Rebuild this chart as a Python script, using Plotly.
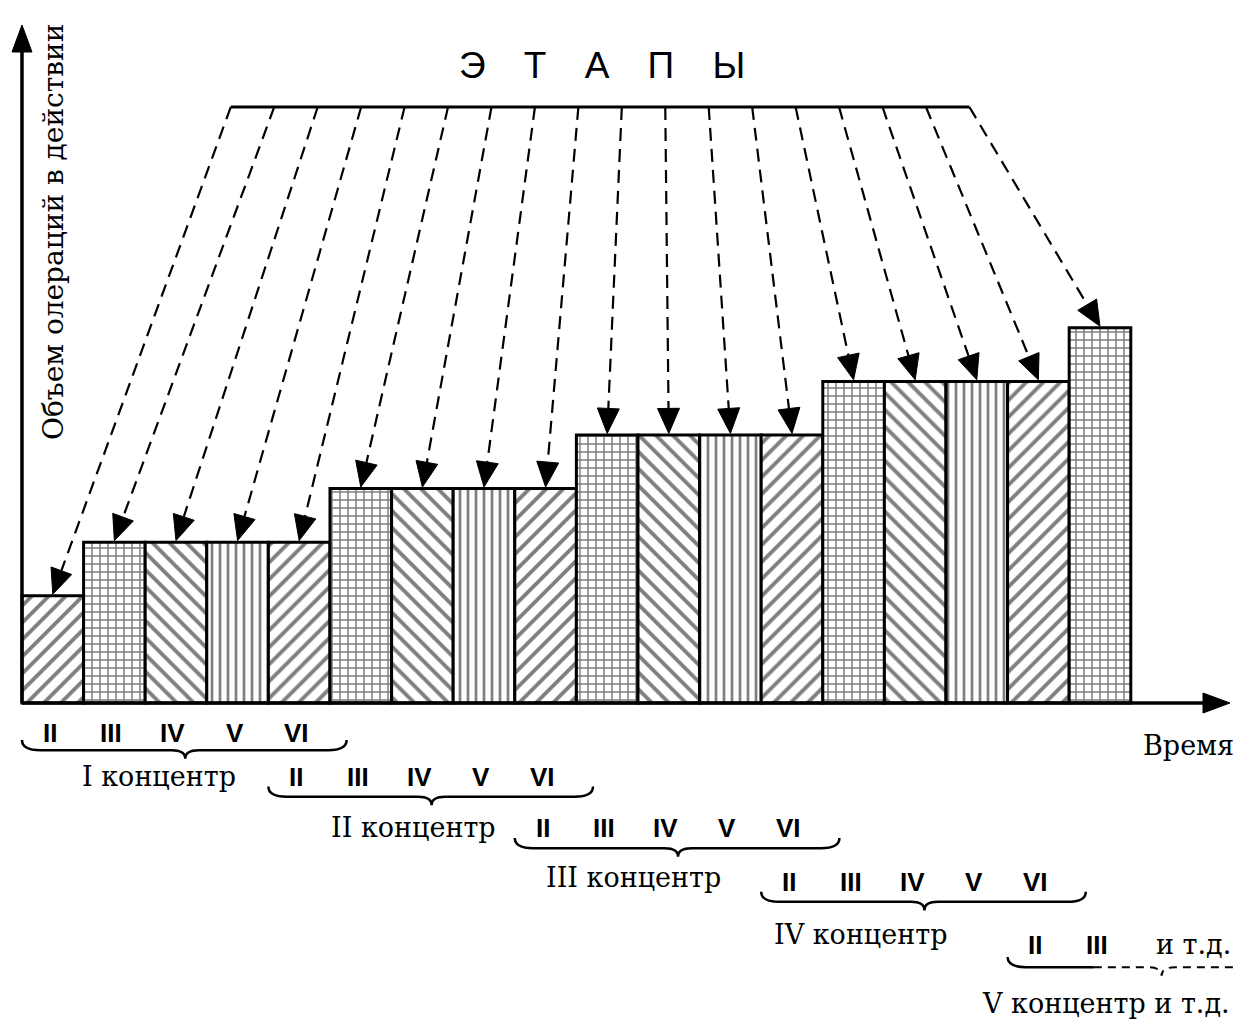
import math
import plotly.graph_objects as go

# ---------------- data ----------------
stage_volume = [2, 3, 3, 3, 3, 4, 4, 4, 4, 5, 5, 5, 5, 6, 6, 6, 6, 7]
stage_pattern = ["/", "+", "\\", "|", "/", "+", "\\", "|", "/",
                 "+", "\\", "|", "/", "+", "\\", "|", "/", "+"]
roman_numerals = ["II", "III", "IV", "V", "VI"]
last_numerals = ["II", "III"]
concentr_labels = ["I концентр", "II концентр", "III концентр", "IV концентр", "V концентр и т.д."]
title_text = "\u00a0\u00a0\u00a0\u2009".join("ЭТАПЫ")
y_title = "Объем олераций в действии"
x_title = "Время"

# ---------------- layout constants ----------------
W, H = 1236, 1021
X_RANGE = [-0.357, 19.708]
Y_RANGE = [-5.933, 13.116]
pattern_size = {"+": 8, "\\": 12, "|": 8, "/": 12}
pattern_solidity = {"+": 0.34, "\\": 0.32, "|": 0.34, "/": 0.32}

numeral_row_y = [-0.56, -1.38, -2.33, -3.34, -4.51]
brace_row_y = [-0.88, -1.75, -2.71, -3.71, -4.93]
label_row_y = [-1.38, -2.33, -3.25, -4.31, -5.60]
label_x = [2.22, 6.35, 9.92, 13.62, 19.65]
arrow_line_x = [3.39, 15.38]
arrow_line_y = 11.12

SX = W / (X_RANGE[1] - X_RANGE[0])
SY = H / (Y_RANGE[1] - Y_RANGE[0])

NUM_FONT = dict(family="Liberation Sans", size=26, color="black", weight="bold")
LBL_FONT = dict(family="DejaVu Serif", size=27, color="black")


def to_px(x, y):
    return (x - X_RANGE[0]) * SX, (Y_RANGE[1] - y) * SY


def from_px(px, py):
    return px / SX + X_RANGE[0], Y_RANGE[1] - py / SY


def arrow_head(tip, frm, length=24, half=10):
    tx, ty = to_px(*tip)
    fx, fy = to_px(*frm)
    dx, dy = tx - fx, ty - fy
    d = math.hypot(dx, dy)
    ux, uy = dx / d, dy / d
    bx, by = tx - ux * length, ty - uy * length
    nx, ny = -uy, ux
    p1 = from_px(bx + nx * half, by + ny * half)
    p2 = from_px(bx - nx * half, by - ny * half)
    base = from_px(bx, by)
    path = f"M{tip[0]},{tip[1]} L{p1[0]},{p1[1]} L{p2[0]},{p2[1]} Z"
    return path, base


shapes = []


def add_head(tip, frm, length=24, half=10):
    path, base = arrow_head(tip, frm, length, half)
    shapes.append(dict(type="path", path=path, xref="x", yref="y",
                       fillcolor="black", line=dict(color="black", width=1)))
    return base


# ---------------- bars ----------------
n = len(stage_volume)
xs = [i + 0.5 for i in range(n)]
fig = go.Figure(go.Bar(
    x=xs, y=stage_volume, width=[1] * n,
    marker=dict(
        color="white",
        line=dict(color="black", width=3),
        pattern=dict(shape=stage_pattern,
                     size=[pattern_size[s] for s in stage_pattern],
                     solidity=[pattern_solidity[s] for s in stage_pattern],
                     fgcolor="black"),
    ),
    hoverinfo="skip",
))

# ---------------- axes drawn as arrows ----------------
y_tip = (0, from_px(0, 25)[1])
base = add_head(y_tip, (0, 0), 27, 10)
shapes.append(dict(type="line", xref="x", yref="y", x0=0, y0=0, x1=0, y1=base[1],
                   line=dict(color="black", width=3.5)))
x_tip = (from_px(1230, 0)[0], 0)
base = add_head(x_tip, (0, 0), 27, 10)
shapes.append(dict(type="line", xref="x", yref="y", x0=0, y0=0, x1=base[0], y1=0,
                   line=dict(color="black", width=3.5)))

# ---------------- "ЭТАПЫ" arrows ----------------
shapes.append(dict(type="line", xref="x", yref="y", x0=arrow_line_x[0], y0=arrow_line_y,
                   x1=arrow_line_x[1], y1=arrow_line_y, line=dict(color="black", width=3)))
step = (arrow_line_x[1] - arrow_line_x[0]) / (n - 1)
for i in range(n):
    start = (arrow_line_x[0] + step * i, arrow_line_y)
    tip = (xs[i], stage_volume[i] + 0.03)
    base = add_head(tip, start, 25, 11)
    shapes.append(dict(type="line", xref="x", yref="y", x0=start[0], y0=start[1],
                       x1=base[0], y1=base[1],
                       line=dict(color="black", width=2.2, dash="13px,8px")))

# ---------------- braces ----------------
HOOK, DIP, R, RT = 0.19, 0.16, 0.3, 0.22
annotations = []
for g in range(5):
    x0 = 4 * g
    y = brace_row_y[g]
    if g < 4:
        x1 = x0 + 5.27
        xt = x0 + 2.65
        path = (f"M{x0},{y + HOOK} Q{x0},{y} {x0 + R},{y} L{xt - RT},{y} "
                f"Q{xt},{y} {xt},{y - DIP} Q{xt},{y} {xt + RT},{y} "
                f"L{x1 - R},{y} Q{x1},{y} {x1},{y + HOOK}")
        shapes.append(dict(type="path", path=path, xref="x", yref="y",
                           line=dict(color="black", width=2.5)))
        for k, rn in enumerate(roman_numerals):
            annotations.append(dict(x=x0 + k + 0.45, y=numeral_row_y[g], text=rn,
                                    showarrow=False, xref="x", yref="y", font=NUM_FONT))
        annotations.append(dict(x=label_x[g], y=label_row_y[g], text=concentr_labels[g],
                                showarrow=False, xref="x", yref="y", font=LBL_FONT))
    else:
        xs_end = 17.4
        xt = 18.5
        path = f"M{x0},{y + HOOK} Q{x0},{y} {x0 + R},{y} L{xs_end},{y}"
        shapes.append(dict(type="path", path=path, xref="x", yref="y",
                           line=dict(color="black", width=2.5)))
        path = (f"M{xs_end},{y} L{xt - RT},{y} Q{xt},{y} {xt},{y - DIP} "
                f"Q{xt},{y} {xt + RT},{y} L{X_RANGE[1]},{y}")
        shapes.append(dict(type="path", path=path, xref="x", yref="y",
                           line=dict(color="black", width=2, dash="8px,6px")))
        for k, rn in enumerate(last_numerals):
            annotations.append(dict(x=x0 + k + 0.45, y=numeral_row_y[g], text=rn,
                                    showarrow=False, xref="x", yref="y", font=NUM_FONT))
        annotations.append(dict(x=X_RANGE[1] - 0.05, y=numeral_row_y[g], text="и т.д.",
                                showarrow=False, xref="x", yref="y", xanchor="right",
                                font=LBL_FONT))
        annotations.append(dict(x=label_x[g], y=label_row_y[g], text=concentr_labels[g],
                                showarrow=False, xref="x", yref="y", xanchor="right",
                                font=LBL_FONT))

# ---------------- titles ----------------
annotations.append(dict(x=from_px(602, 0)[0], y=from_px(0, 65)[1], text=title_text,
                        showarrow=False, xref="x", yref="y",
                        font=dict(family="Liberation Sans", size=37, color="black")))
annotations.append(dict(x=from_px(53, 0)[0], y=from_px(0, 232)[1], text=y_title,
                        textangle=-90, showarrow=False, xref="x", yref="y",
                        font=dict(family="DejaVu Serif", size=28, color="black")))
annotations.append(dict(x=from_px(1188, 0)[0], y=from_px(0, 745)[1], text=x_title,
                        showarrow=False, xref="x", yref="y", font=LBL_FONT))

fig.update_layout(
    width=W, height=H, autosize=False,
    margin=dict(l=0, r=0, t=0, b=0, pad=0),
    plot_bgcolor="white", paper_bgcolor="white",
    showlegend=False,
    shapes=shapes, annotations=annotations,
    xaxis=dict(range=X_RANGE, visible=False, fixedrange=True),
    yaxis=dict(range=Y_RANGE, visible=False, fixedrange=True),
)

fig.write_html("out.html", config={"displayModeBar": False},
               post_script="document.body.style.margin='0px';document.body.style.overflow='hidden';")
